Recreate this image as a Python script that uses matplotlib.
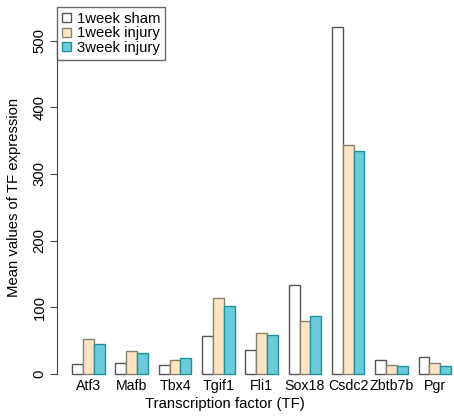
import matplotlib
matplotlib.use('Agg')
import matplotlib.pyplot as plt
import numpy as np

plt.rcParams['font.family'] = ['Liberation Sans', 'DejaVu Sans']

factors = ['Atf3', 'Mafb', 'Tbx4', 'Tgif1', 'Fli1', 'Sox18', 'Csdc2', 'Zbtb7b', 'Pgr']
sham_1w = [15.5, 16.5, 13, 57.5, 36.5, 133.5, 521, 21.5, 25]
injury_1w = [52, 34.5, 21.5, 113.5, 62, 79.5, 343.5, 13, 16]
injury_3w = [44.5, 31, 24.5, 102, 59, 86.5, 334.5, 11.5, 12]

series = [sham_1w, injury_1w, injury_3w]
labels = ['1week sham', '1week injury', '3week injury']
fills = ['white', '#FFE4C4', '#6CCBDB']
edges = ['#555555', '#8a8070', '#1f8f98']

fs = 10.7
W, H = 454, 416
fig = plt.figure(figsize=(W / 100, H / 100), dpi=100)
# plot region in pixels: left 57, right beyond the image edge, top 7, bottom 388
ax = fig.add_axes([57 / W, 1 - 388 / H, (454 - 57) / W, (388 - 7) / H])

# R barplot layout: groups of 3 bars, 1 bar of space before each group
groups = np.arange(len(factors)) * 4
handles = []
for k, vals in enumerate(series):
    x = groups + 1 + k
    h = ax.bar(x, vals, width=1, align='edge', color=fills[k],
               edgecolor=edges[k], linewidth=1.0, label=labels[k])
    handles.append(h)

ax.set_xlim(-0.4, 36.27)
ax.set_ylim(-21, 550.5)

for s in ['top', 'right', 'bottom']:
    ax.spines[s].set_visible(False)
ax.spines['left'].set_bounds(0, 500)
ax.spines['left'].set_color('#444444')

ax.set_yticks([0, 100, 200, 300, 400, 500])
ax.set_yticklabels(['0', '100', '200', '300', '400', '500'], rotation=90,
                   va='center', fontsize=fs)
ax.tick_params(axis='y', length=5, color='#444444', pad=2.5)

ax.set_xticks(groups + 2.5)
ax.set_xticklabels(factors, fontsize=10.2)
ax.tick_params(axis='x', length=0, pad=-6.5)

ax.set_xlabel('Transcription factor (TF)', fontsize=fs)
ax.xaxis.set_label_coords((225 - 57) / (454 - 57), -(397 - 388) / (388 - 7))
ax.set_ylabel('Mean values of TF expression', fontsize=fs)
ax.yaxis.set_label_coords(-(57 - 14) / (454 - 57), 0.5)
ax.yaxis.label.set_va('center')

leg = ax.legend(handles=handles, loc='upper left', fontsize=fs, frameon=True,
                fancybox=False, borderaxespad=0, handlelength=0.62,
                handleheight=0.55, handletextpad=0.35, labelspacing=0.02,
                borderpad=0.35)
leg.get_frame().set_edgecolor('#444444')
leg.get_frame().set_linewidth(1.0)

fig.savefig('out.png', dpi=100)
